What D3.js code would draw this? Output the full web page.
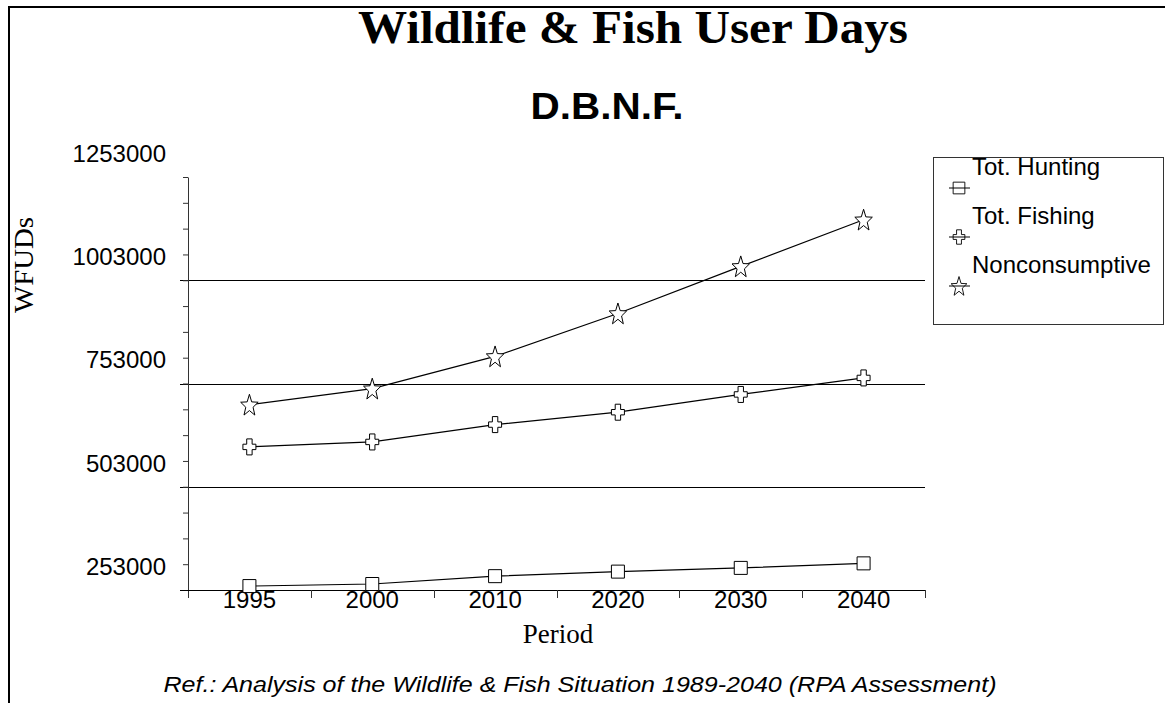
<!DOCTYPE html>
<html>
<head>
<meta charset="utf-8">
<script src="https://cdn.jsdelivr.net/npm/d3@7"></script>
<style>
  body { margin: 0; background: #fff; }
  text { fill: #000; }
</style>
</head>
<body>
<svg width="1165" height="703"></svg>
<script>
// data
const periods = ["1995", "2000", "2010", "2020", "2030", "2040"];
const hunting = [200000, 205000, 224000, 235000, 244000, 255000];
const fishing = [537000, 549000, 591000, 621000, 664000, 704000];
const nonconsumptive = [639000, 678000, 756000, 860000, 974000, 1087000];
const seriesNames = ["Tot. Hunting", "Tot. Fishing", "Nonconsumptive"];
const yTickLabels = [253000, 503000, 753000, 1003000, 1253000];
const gridValues = [440500, 690500, 940500];

const svg = d3.select("svg");

// outer frame (top + left edge)
svg.append("path")
    .attr("d", "M9,703 V7 H1165")
    .attr("fill", "none")
    .attr("stroke", "#000")
    .attr("stroke-width", 2);

// plot area
const plotLeft = 188, plotRight = 925, plotTop = 177, plotBottom = 590;

const x = d3.scaleBand().domain(periods).range([plotLeft, plotRight]).padding(0);
const y = d3.scaleLinear().domain([190500, 1190500]).range([plotBottom, plotTop]);

// marker shapes
const shapes = {
    square: "M-6.5,-6.5H6.5V6.5H-6.5Z",
    cross: "M-2.7,-8H2.7V-2.7H6.5V2.7H2.7V8H-2.7V2.7H-6.5V-2.7H-2.7Z",
    star: (() => {
        let pts = [];
        for (let i = 0; i < 10; i++) {
            const r = i % 2 === 0 ? 11.5 : 4.8;
            const a = -Math.PI / 2 + i * Math.PI / 5;
            pts.push([Math.cos(a) * r * 0.8, Math.sin(a) * r + 1]);
        }
        return "M" + pts.map(p => p[0].toFixed(2) + "," + p[1].toFixed(2)).join("L") + "Z";
    })()
};

const series = [
    { name: seriesNames[0], values: hunting, shape: "square" },
    { name: seriesNames[1], values: fishing, shape: "cross" },
    { name: seriesNames[2], values: nonconsumptive, shape: "star" }
];

// grid lines
svg.append("g")
    .selectAll("line")
    .data(gridValues)
    .enter().append("line")
    .attr("x1", plotLeft - 8)
    .attr("x2", plotRight)
    .attr("y1", d => Math.round(y(d)) + 0.5)
    .attr("y2", d => Math.round(y(d)) + 0.5)
    .attr("stroke", "#000")
    .attr("stroke-width", 1);

// y axis with minor ticks
const minorTicks = d3.range(190500 + 62500, 1190500 + 1, 62500);
const yAxis = svg.append("g")
    .attr("transform", `translate(${plotLeft},0)`)
    .call(d3.axisLeft(y).tickValues(minorTicks).tickSize(5).tickSizeOuter(0).tickFormat(""));
yAxis.selectAll("path, line").attr("stroke", "#333");

// y labels (1253000 sits above the axis end)
svg.append("g")
    .attr("transform", `translate(${plotLeft},0)`)
    .call(d3.axisLeft(y).tickValues(yTickLabels).tickSize(0).tickPadding(22).tickFormat(d3.format("d")))
    .call(g => g.select(".domain").remove())
    .selectAll("text")
    .attr("dy", "0.42em")
    .style("font-family", "Arial, 'Liberation Sans', sans-serif")
    .style("font-size", "24px")
    .attr("fill", "#000");

// extend y axis down past the x axis
svg.append("line")
    .attr("x1", plotLeft + 0.5).attr("x2", plotLeft + 0.5)
    .attr("y1", plotBottom).attr("y2", plotBottom + 8)
    .attr("stroke", "#333");

// x axis line
svg.append("line")
    .attr("x1", plotLeft - 8).attr("x2", plotRight + 1)
    .attr("y1", plotBottom + 0.5).attr("y2", plotBottom + 0.5)
    .attr("stroke", "#000");

// x tick marks on band edges
svg.append("g")
    .selectAll("line")
    .data(periods.slice(1).concat(["end"]))
    .enter().append("line")
    .attr("x1", d => Math.round(d === "end" ? x.range()[1] : x(d)) + 0.5)
    .attr("x2", d => Math.round(d === "end" ? x.range()[1] : x(d)) + 0.5)
    .attr("y1", plotBottom)
    .attr("y2", plotBottom + 8)
    .attr("stroke", "#333");

// x labels
svg.append("g")
    .attr("transform", `translate(0,${plotBottom})`)
    .call(d3.axisBottom(x).tickSize(0).tickPadding(1))
    .call(g => g.select(".domain").remove())
    .selectAll("text")
    .style("font-family", "Arial, 'Liberation Sans', sans-serif")
    .style("font-size", "24px")
    .attr("fill", "#000");

// series lines and markers
const line = d3.line()
    .x((d, i) => x(periods[i]) + x.bandwidth() / 2)
    .y(d => y(d));

series.forEach(s => {
    svg.append("path")
        .datum(s.values)
        .attr("d", line)
        .attr("fill", "none")
        .attr("stroke", "#000")
        .attr("stroke-width", 1.2);

    svg.append("g")
        .selectAll("path")
        .data(s.values)
        .enter().append("path")
        .attr("transform", (d, i) => `translate(${x(periods[i]) + x.bandwidth() / 2},${y(d)})`)
        .attr("d", shapes[s.shape])
        .attr("fill", "#fff")
        .attr("stroke", "#000")
        .attr("stroke-width", 1);
});

// legend
const legend = svg.append("g");
legend.append("rect")
    .attr("x", 933.5).attr("y", 157.5)
    .attr("width", 230).attr("height", 167)
    .attr("fill", "#fff")
    .attr("stroke", "#333");

series.forEach((s, i) => {
    const g = legend.append("g").attr("transform", `translate(0,${i * 49})`);
    g.append("text")
        .attr("x", 972).attr("y", 175)
        .style("font-family", "Arial, 'Liberation Sans', sans-serif")
        .style("font-size", "24px")
        .text(s.name);
    g.append("line")
        .attr("x1", 949).attr("x2", 970)
        .attr("y1", 188).attr("y2", 188)
        .attr("stroke", "#000");
    g.append("path")
        .attr("transform", "translate(959,188) scale(0.9)")
        .attr("d", shapes[s.shape])
        .attr("fill", "none")
        .attr("stroke", "#000");
});

// titles
svg.append("text")
    .attr("x", 633).attr("y", 43)
    .attr("text-anchor", "middle")
    .attr("textLength", 550)
    .attr("lengthAdjust", "spacingAndGlyphs")
    .style("font-family", "'Times New Roman', 'Liberation Serif', serif")
    .style("font-weight", "bold")
    .style("font-size", "46px")
    .text("Wildlife & Fish User Days");

svg.append("text")
    .attr("x", 607).attr("y", 119)
    .attr("text-anchor", "middle")
    .attr("textLength", 153)
    .attr("lengthAdjust", "spacingAndGlyphs")
    .style("font-family", "Arial, 'Liberation Sans', sans-serif")
    .style("font-weight", "bold")
    .style("font-size", "36px")
    .text("D.B.N.F.");

svg.append("text")
    .attr("transform", "translate(33,265) rotate(-90)")
    .attr("text-anchor", "middle")
    .attr("textLength", 96)
    .attr("lengthAdjust", "spacingAndGlyphs")
    .style("font-family", "'Times New Roman', 'Liberation Serif', serif")
    .style("font-size", "28px")
    .text("WFUDs");

svg.append("text")
    .attr("x", 558).attr("y", 643)
    .attr("text-anchor", "middle")
    .style("font-family", "'Times New Roman', 'Liberation Serif', serif")
    .style("font-size", "27px")
    .text("Period");

svg.append("text")
    .attr("x", 580).attr("y", 692)
    .attr("text-anchor", "middle")
    .attr("textLength", 833)
    .attr("lengthAdjust", "spacingAndGlyphs")
    .style("font-family", "Arial, 'Liberation Sans', sans-serif")
    .style("font-style", "italic")
    .style("font-size", "22px")
    .text("Ref.:  Analysis of the Wildlife & Fish Situation 1989-2040 (RPA Assessment)");
</script>
</body>
</html>
